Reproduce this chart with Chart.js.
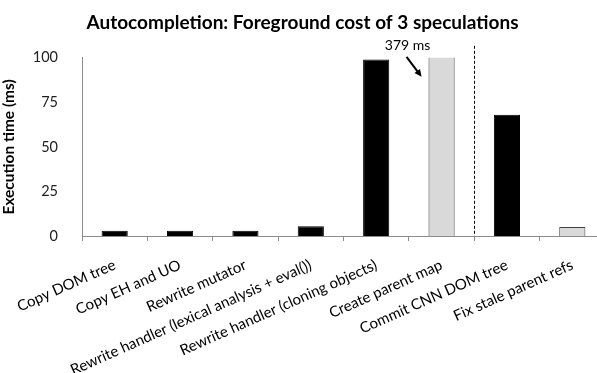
<!DOCTYPE html>
<html>
<head>
<meta charset="utf-8">
<script src="https://cdn.jsdelivr.net/npm/chart.js@4"></script>
<style>
html,body{margin:0;padding:0;background:#fff;overflow:hidden;}
#wrap{width:612px;height:373px;}
</style>
</head>
<body>
<div id="wrap"><canvas id="c" width="612" height="373"></canvas></div>
<script>
const categories = ["Copy DOM tree","Copy EH and UO","Rewrite mutator","Rewrite handler (lexical analysis + eval())","Rewrite handler (cloning objects)","Create parent map","Commit CNN DOM tree","Fix stale parent refs"];
const executionMs = [3, 3, 3, 5.5, 99, 379, 68, 5];
const barKind = ["spec","spec","spec","spec","spec","spec-alt","commit","commit-alt"];
const yTicks = [0, 25, 50, 75, 100];
const annotationText = "379 ms";
const annotatedIndex = 5;
const dividerAfterIndex = 5;

const fillFor = k => k.endsWith("alt") ? "#d9d9d9" : "#000000";
const borderFor = k => k.endsWith("alt") ? "#404040" : "#000000";
const FONT = "Lato, 'Open Sans', sans-serif";

const overlay = {
  id: "overlay",
  afterDatasetsDraw(chart) {
    const ctx = chart.ctx, x = chart.scales.x, area = chart.chartArea;
    const dx = Math.round((x.getPixelForValue(dividerAfterIndex) + x.getPixelForValue(dividerAfterIndex + 1)) / 2) + 0.5;
    ctx.save();
    ctx.strokeStyle = "#000";
    ctx.lineWidth = 1;
    ctx.setLineDash([3, 2]);
    ctx.beginPath();
    ctx.moveTo(dx, area.top - 12);
    ctx.lineTo(dx, area.bottom);
    ctx.stroke();
    ctx.setLineDash([]);
    const bx = x.getPixelForValue(annotatedIndex);
    ctx.fillStyle = "#000";
    ctx.font = "14px " + FONT;
    ctx.textAlign = "center";
    ctx.textBaseline = "middle";
    ctx.fillText(annotationText, bx - 34, area.top - 12);
    const x0 = bx - 35, y0 = area.top - 1, x1 = bx - 20, y1 = area.top + 19;
    ctx.lineWidth = 2;
    ctx.beginPath();
    ctx.moveTo(x0, y0);
    ctx.lineTo(x1 - 3, y1 - 4);
    ctx.stroke();
    const ang = Math.atan2(y1 - y0, x1 - x0);
    ctx.beginPath();
    ctx.moveTo(x1, y1);
    ctx.lineTo(x1 - 8 * Math.cos(ang - 0.45), y1 - 8 * Math.sin(ang - 0.45));
    ctx.lineTo(x1 - 8 * Math.cos(ang + 0.45), y1 - 8 * Math.sin(ang + 0.45));
    ctx.closePath();
    ctx.fill();
    ctx.restore();
  }
};

new Chart(document.getElementById("c"), {
  type: "bar",
  data: {
    labels: categories,
    datasets: [{
      data: executionMs,
      backgroundColor: barKind.map(fillFor),
      borderColor: barKind.map(borderFor),
      borderWidth: 1,
      barPercentage: 0.4,
      categoryPercentage: 1
    }]
  },
  options: {
    responsive: false,
    animation: false,
    devicePixelRatio: 1,
    layout: { padding: { left: 0, right: 7, top: 0, bottom: 0 } },
    plugins: {
      legend: { display: false },
      tooltip: { enabled: false },
      title: {
        display: true,
        text: "Autocompletion: Foreground cost of 3 speculations",
        color: "#000",
        font: { family: FONT, size: 19, weight: "bold" },
        padding: { top: 11, bottom: 24 }
      }
    },
    scales: {
      x: {
        grid: { display: true, drawOnChartArea: false, offset: true, color: "#8c8c8c", tickLength: 5 },
        border: { display: true, color: "#8c8c8c", width: 1 },
        ticks: {
          color: "#000",
          font: { family: FONT, size: 15 },
          minRotation: 24, maxRotation: 24, autoSkip: false, padding: 15
        },
        afterFit(scale) { scale.height = 137; scale.paddingLeft = 0; scale.paddingRight = 0; }
      },
      y: {
        min: 0, max: 100,
        afterBuildTicks(scale) { scale.ticks = yTicks.map(v => ({ value: v })); },
        grid: { display: false },
        border: { display: true, color: "#8c8c8c", width: 1 },
        ticks: { color: "#222", font: { family: FONT, size: 14.5 }, padding: 16 },
        title: {
          display: true,
          text: "Execution time (ms)",
          color: "#000",
          font: { family: FONT, size: 15.5, weight: "bold" },
          padding: { top: 0, bottom: 4 }
        },
        afterFit(scale) { scale.width = 82; }
      }
    }
  },
  plugins: [overlay]
});
</script>
</body>
</html>
